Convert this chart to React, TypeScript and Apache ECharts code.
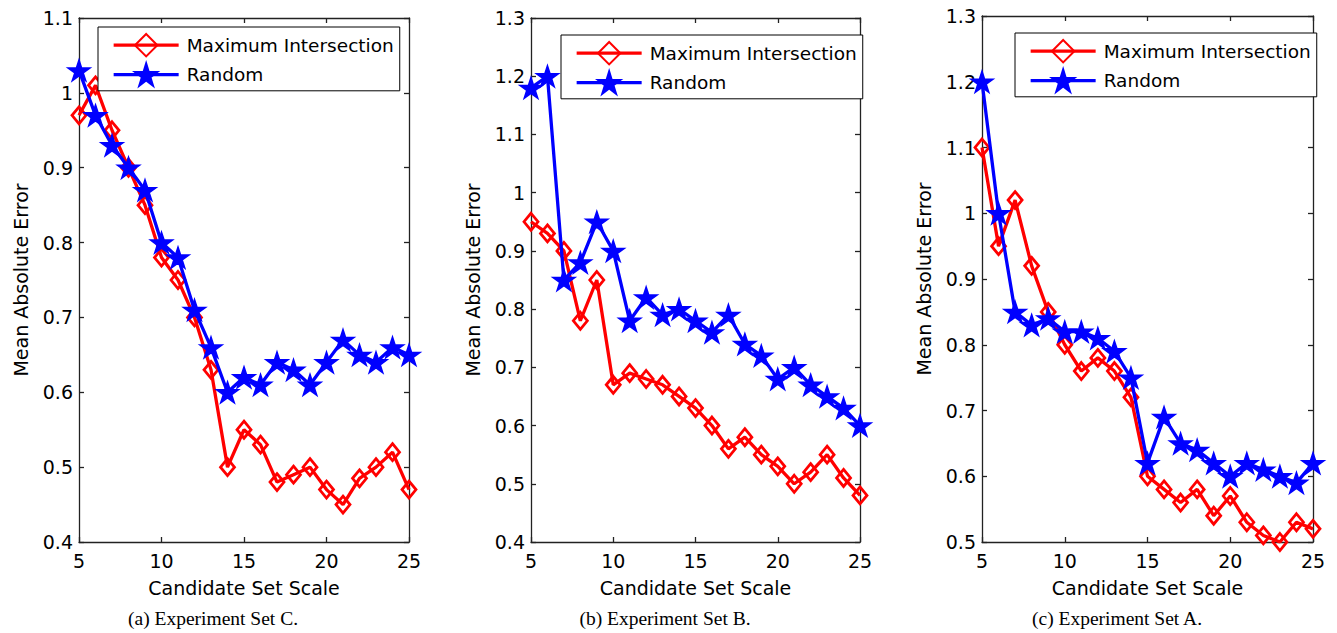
import React, { useEffect, useRef } from "react";
import * as echarts from "echarts";

const xs = [5, 6, 7, 8, 9, 10, 11, 12, 13, 14, 15, 16, 17, 18, 19, 20, 21, 22, 23, 24, 25];

const maxA = [0.97, 1.01, 0.95, 0.9, 0.85, 0.78, 0.75, 0.7, 0.63, 0.5, 0.55, 0.53, 0.48, 0.49, 0.5, 0.47, 0.45, 0.485, 0.5, 0.52, 0.47];
const rndA = [1.03, 0.97, 0.93, 0.9, 0.87, 0.8, 0.78, 0.71, 0.66, 0.6, 0.62, 0.61, 0.64, 0.63, 0.61, 0.64, 0.67, 0.65, 0.64, 0.66, 0.65];

const maxB = [0.95, 0.93, 0.9, 0.78, 0.85, 0.67, 0.69, 0.68, 0.67, 0.65, 0.63, 0.6, 0.56, 0.58, 0.55, 0.53, 0.5, 0.52, 0.55, 0.51, 0.48];
const rndB = [1.18, 1.2, 0.85, 0.88, 0.95, 0.9, 0.78, 0.82, 0.79, 0.8, 0.78, 0.76, 0.79, 0.74, 0.72, 0.68, 0.7, 0.67, 0.65, 0.63, 0.6];

const maxC = [1.1, 0.95, 1.02, 0.92, 0.85, 0.8, 0.76, 0.78, 0.76, 0.72, 0.6, 0.58, 0.56, 0.58, 0.54, 0.57, 0.53, 0.51, 0.5, 0.53, 0.52];
const rndC = [1.2, 1.0, 0.85, 0.83, 0.84, 0.82, 0.82, 0.81, 0.79, 0.75, 0.62, 0.69, 0.65, 0.64, 0.62, 0.6, 0.62, 0.61, 0.6, 0.59, 0.62];

const seriesNames = ["Maximum Intersection", "Random"];
const captions = ["(a) Experiment Set C.", "(b) Experiment Set B.", "(c) Experiment Set A."];
const yMins = [0.4, 0.4, 0.5];
const yMaxs = [1.1, 1.3, 1.3];
const xTitle = "Candidate Set Scale";
const yTitle = "Mean Absolute Error";

const STAR =
  "path://M100,0 L122.45,69.1 L195.11,69.1 L136.33,111.8 L158.78,180.9 L100,138.2 L41.22,180.9 L63.67,111.8 L4.89,69.1 L77.55,69.1 Z";

const panels = [
  { maxv: maxA, rnd: rndA, grid: { left: 79, top: 18, width: 330, height: 524 }, legend: { left: 98, top: 27 }, cap: 213 },
  { maxv: maxB, rnd: rndB, grid: { left: 531, top: 18, width: 329, height: 524 }, legend: { left: 561, top: 35 }, cap: 665 },
  { maxv: maxC, rnd: rndC, grid: { left: 982, top: 16, width: 331, height: 526 }, legend: { left: 1015, top: 33 }, cap: 1117 },
];

const SANS = "DejaVu Sans";

export default function App() {
  const ref = useRef<HTMLDivElement>(null);
  useEffect(() => {
    if (!ref.current) return;
    const chart = echarts.init(ref.current, undefined, { renderer: "svg" });
    const grids: any[] = [];
    const xAxes: any[] = [];
    const yAxes: any[] = [];
    const series: any[] = [];
    const legends: any[] = [];
    const graphics: any[] = [];
    const axisLine = { show: true, onZero: false, lineStyle: { color: "#222", width: 1.3 } };
    const tick = { show: true, inside: true, length: 5, lineStyle: { color: "#222", width: 1.3 } };
    panels.forEach((p, i) => {
      grids.push({ ...p.grid, containLabel: false });
      const xBase = { type: "value", gridIndex: i, min: 5, max: 25, interval: 5, splitLine: { show: false }, axisLine, axisTick: tick };
      xAxes.push({
        ...xBase,
        position: "bottom",
        name: xTitle,
        nameLocation: "middle",
        nameGap: 36,
        nameTextStyle: { fontFamily: SANS, fontSize: 19, color: "#000" },
        axisLabel: { fontFamily: SANS, fontSize: 19, color: "#000", margin: 9 },
      });
      xAxes.push({ ...xBase, position: "top", axisLabel: { show: false } });
      const yBase = {
        type: "value",
        gridIndex: i,
        min: yMins[i],
        max: yMaxs[i],
        interval: 0.1,
        splitLine: { show: false },
        axisLine,
        axisTick: tick,
      };
      yAxes.push({
        ...yBase,
        position: "left",
        name: yTitle,
        nameLocation: "middle",
        nameGap: 49,
        nameTextStyle: { fontFamily: SANS, fontSize: 19, color: "#000" },
        axisLabel: {
          fontFamily: SANS,
          fontSize: 19,
          color: "#000",
          margin: 6,
          formatter: (v: number) => String(+v.toFixed(1)),
        },
      });
      yAxes.push({ ...yBase, position: "right", axisLabel: { show: false } });
      series.push({
        type: "line",
        name: seriesNames[0],
        xAxisIndex: 2 * i,
        yAxisIndex: 2 * i,
        data: xs.map((x, k) => [x, p.maxv[k]]),
        symbol: "diamond",
        symbolSize: [14, 17],
        lineStyle: { color: "#ff0000", width: 3.3 },
        itemStyle: { color: "rgba(255,255,255,0)", borderColor: "#ff0000", borderWidth: 2.8 },
        z: 2,
      });
      series.push({
        type: "line",
        name: seriesNames[1],
        xAxisIndex: 2 * i,
        yAxisIndex: 2 * i,
        data: xs.map((x, k) => [x, p.rnd[k]]),
        symbol: STAR,
        symbolKeepAspect: true,
        symbolSize: 22,
        lineStyle: { color: "#0000ff", width: 3.3 },
        itemStyle: { color: "#0000ff", borderColor: "#0000ff", borderWidth: 1.5 },
        z: 3,
      });
      legends.push({
        orient: "vertical",
        left: p.legend.left,
        top: p.legend.top,
        padding: [6, 6, 4, 14],
        itemWidth: 65,
        itemHeight: 28,
        itemGap: 5,
        backgroundColor: "#fff",
        borderColor: "#000",
        borderWidth: 1,
        borderRadius: 0,
        lineStyle: { width: 3.3 },
        textStyle: { fontFamily: SANS, fontSize: 18.5, color: "#000", padding: [0, 0, 0, 3] },
        data: seriesNames,
        selectedMode: false,
        z: 10,
      });
      graphics.push({
        type: "text",
        x: p.cap,
        y: 618,
        style: {
          text: captions[i],
          fontFamily: "Liberation Serif",
          fontSize: 19.5,
          fill: "#000",
          align: "center",
          verticalAlign: "middle",
        },
      });
    });
    chart.setOption({
      animation: false,
      backgroundColor: "#fff",
      grid: grids,
      xAxis: xAxes,
      yAxis: yAxes,
      series,
      legend: legends,
      graphic: graphics,
    });
    return () => chart.dispose();
  }, []);
  return (
    <div
      ref={ref}
      style={{ position: "fixed", left: 0, top: 0, width: "1337px", height: "633px", background: "#fff" }}
    />
  );
}
